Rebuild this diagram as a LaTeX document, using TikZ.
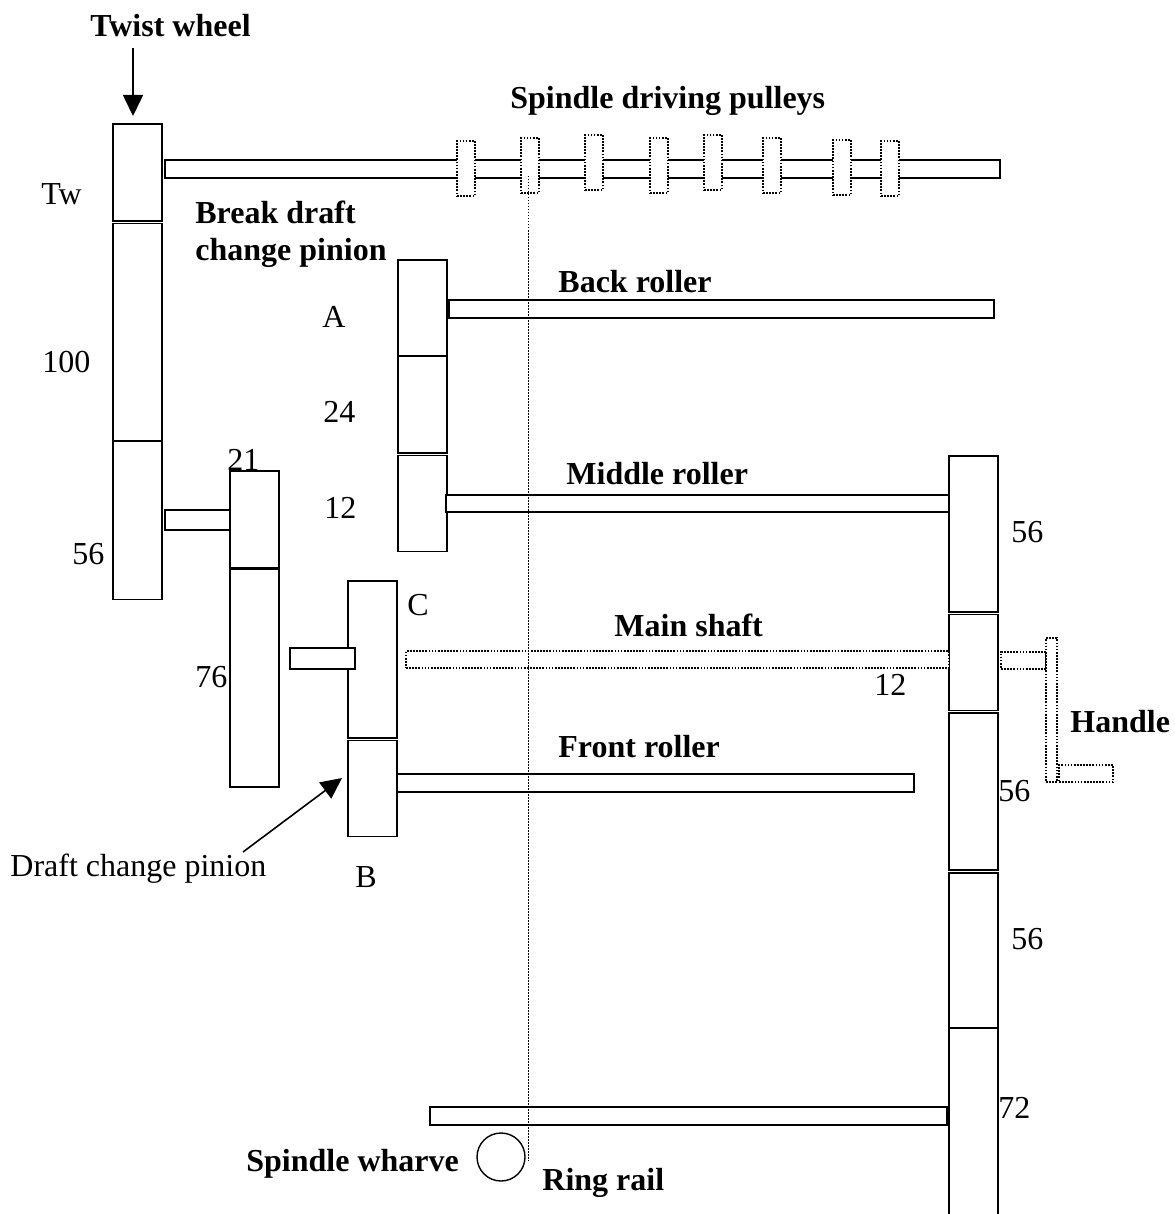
\documentclass[tikz,border=0pt]{standalone}
\usepackage{fontspec}
\setmainfont{Liberation Serif}
\usetikzlibrary{arrows.meta, positioning}
\def\gapsep{1.3pt}
\def\tightsep{0.5pt}

\begin{document}
\begin{tikzpicture}[x=0.5pt, y=-0.5pt, >=Stealth]

  \tikzset{
    wheel/.style = {
      rectangle, draw, line width=0.75pt, fill=white, inner sep=0pt, outer sep=0pt,
      minimum width=24.5pt, minimum height=#1*0.5pt, anchor=north west
    },
    shaft/.style 2 args = {
      rectangle, draw, line width=0.75pt, fill=white, inner sep=0pt, outer sep=0pt,
      minimum width=#1*0.5pt, minimum height=#2*0.5pt, anchor=north west
    },
    dotshaft/.style 2 args = {
      shaft={#1}{#2}, line width=0.85pt, dash pattern=on 0.85pt off 0.7pt
    },
    pulley/.style = {
      dotshaft={18}{55}
    },
    dropline/.style = {
      line width=0.45pt, dash pattern=on 0.75pt off 0.75pt
    },
    pointer/.style = {
      -{Triangle[length=10.5pt, width=10pt]}, line width=0.8pt
    },
    lbl/.style = {
      font=\fontsize{16}{18.5}\selectfont, inner sep=0pt, anchor=base west, align=left,
      yshift=-0.6pt
    },
    boldlbl/.style = {
      lbl, font=\fontsize{16}{18.5}\selectfont\bfseries
    }
  }

  \useasboundingbox (0,0) rectangle (1174,1214);

  % --- Left gear train ---------------------------------------------------
  \node (tw)    [wheel=97]  at (113,124) {};
  \node (w100)  [wheel=217, below=\gapsep of tw] {};
  \node (w56)   [wheel=158, below=\tightsep of w100] {};
  \node (w21)   [wheel=97]  at (230,471) {};
  \node (w76)   [wheel=218, below=\tightsep of w21] {};

  % --- Middle gear stacks ------------------------------------------------
  \node (wa)    [wheel=96]  at (398,260) {};
  \node (w24)   [wheel=97, below=0pt of wa] {};
  \node (w12)   [wheel=96, below=\gapsep of w24] {};
  \node (wc)    [wheel=157] at (348,581) {};
  \node (wb)    [wheel=96, below=\gapsep of wc] {};

  % --- Right gear stack --------------------------------------------------
  \node (r56a)  [wheel=156] at (949,456) {};
  \node (r12)   [wheel=96,  below=\gapsep of r56a] {};
  \node (r56b)  [wheel=157, below=\gapsep of r12] {};
  \node (r56c)  [wheel=155, below=\gapsep of r56b] {};
  \node (r72)   [wheel=220, below=0pt of r56c] {};

  % --- Shafts and rollers ------------------------------------------------
  \node (spindleshaft) [shaft={835}{18}] at (165,160) {};
  \node (backroll)     [shaft={545}{18}] at (449,300) {};
  \node (midroll)      [shaft={503}{17}] at (446,495) {};
  \node (frontroll)    [shaft={517}{18}] at (397,774) {};
  \node (ringrail)     [shaft={517}{18}] at (430,1107) {};
  \node (stubtop)      [shaft={65}{20}]  at (165,510) {};
  \node (stublow)      [shaft={65}{21}]  at (290,648) {};
  \node (mainshaft)    [dotshaft={543}{17}] at (406,651) {};

  % --- Spindle driving pulleys -------------------------------------------
  \node (p1) [pulley] at (457,141) {};
  \node (p2) [pulley] at (521,138) {};
  \node (p3) [pulley] at (585,135) {};
  \node (p4) [pulley] at (650,138) {};
  \node (p5) [pulley] at (704,135) {};
  \node (p6) [pulley] at (763,138) {};
  \node (p7) [pulley] at (833,140) {};
  \node (p8) [pulley] at (881,141) {};

  % --- Handle ------------------------------------------------------------
  \node (hstub) [dotshaft={45}{17}]  at (1001,652) {};
  \node (harm)  [dotshaft={11}{144}] at (1046,638) {};
  \node (hgrip) [dotshaft={54}{17}]  at (1059,765) {};

  % --- Spindle wharve ----------------------------------------------------
  \node (wharve) [circle, draw, line width=0.7pt, minimum size=24pt, inner sep=0pt] at (501,1157) {};

  % --- Labels ------------------------------------------------------------
  \node (twistlbl)   [boldlbl] at (90,35)    {Twist wheel};
  \node (pulleylbl)  [boldlbl] at (510,107)  {Spindle driving pulleys};
  \node (breaklbl)   [boldlbl] at (195,222)  {Break draft};
  \node (changelbl)  [boldlbl] at (195,259)  {change pinion};
  \node (backlbl)    [boldlbl] at (558,291)  {Back roller};
  \node (midlbl)     [boldlbl] at (566,483)  {Middle roller};
  \node (mainlbl)    [boldlbl] at (614,635)  {Main shaft};
  \node (handlelbl)  [boldlbl] at (1070,731) {Handle};
  \node (frontlbl)   [boldlbl] at (558,756)  {Front roller};
  \node (wharvelbl)  [boldlbl] at (246,1170) {Spindle wharve};
  \node (ringlbl)    [boldlbl] at (542,1189) {Ring rail};

  \node (twlbl)   [lbl] at (41,203)   {Tw};
  \node (alphalbl) [lbl] at (322,326) {A};
  \node (n100)    [lbl] at (42,371)   {100};
  \node (n24)     [lbl] at (323,421)  {24};
  \node (n21)     [lbl] at (227,469)  {21};
  \node (n12a)    [lbl] at (324,517)  {12};
  \node (n56a)    [lbl] at (72,563)   {56};
  \node (n56b)    [lbl] at (1011,541) {56};
  \node (clbl)    [lbl] at (407,614)  {C};
  \node (n76)     [lbl] at (195,686)  {76};
  \node (n12b)    [lbl] at (874,694)  {12};
  \node (n56c)    [lbl] at (998,800)  {56};
  \node (draftlbl) [lbl] at (10,875)  {Draft change pinion};
  \node (blbl)    [lbl] at (355,886)  {B};
  \node (n56d)    [lbl] at (1011,948) {56};
  \node (n72)     [lbl] at (998,1117) {72};

  % --- Connectors --------------------------------------------------------
  \coordinate (twisttop) at (133,48);
  \coordinate (twistend) at (133,116);
  \coordinate (draftfoot) at (243,852);
  \coordinate (drafttip) at (342,778);
  \coordinate (dropstart) at (528,176);
  \coordinate (dropend) at (528,1161);

  \draw [pointer] (twisttop) -- (twistend);
  \draw [pointer] (draftfoot) -- (drafttip);
  \draw [dropline] (dropstart) -- (dropend);

\end{tikzpicture}
\end{document}
